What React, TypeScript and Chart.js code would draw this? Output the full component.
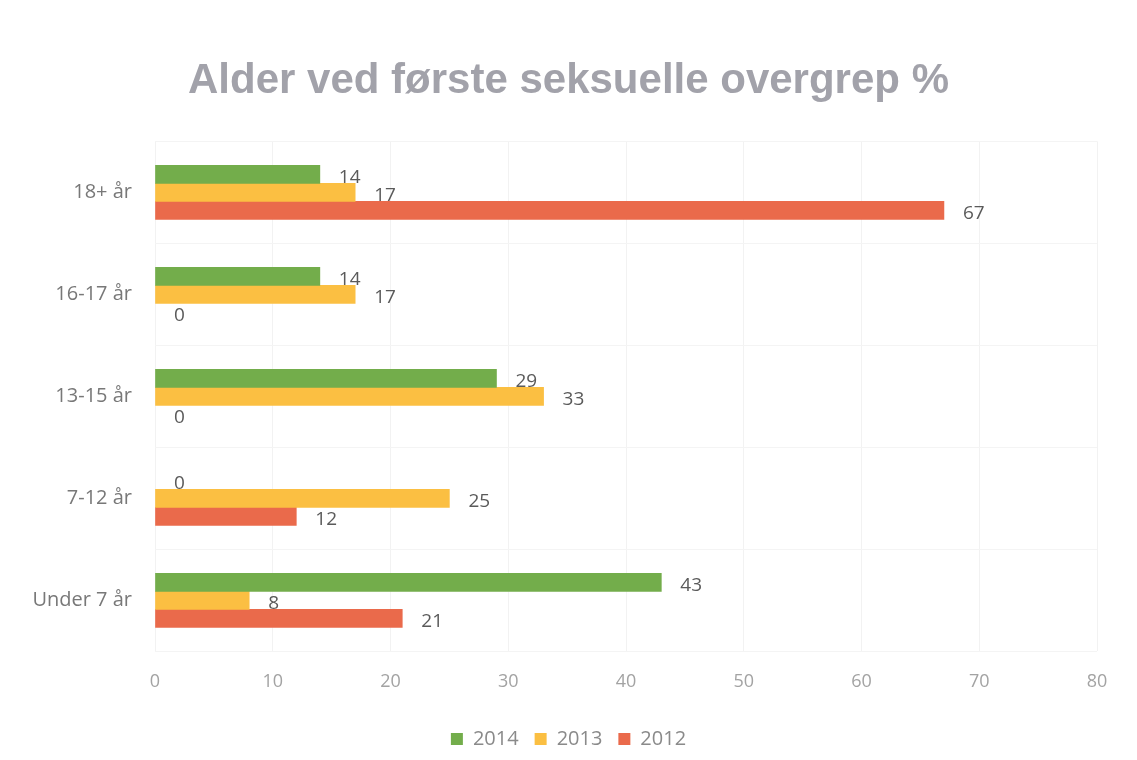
import React, { useEffect, useRef } from "react";
import { Chart, registerables } from "chart.js";

Chart.register(...registerables);

const categories = ["18+ år", "16-17 år", "13-15 år", "7-12 år", "Under 7 år"];
const values2014 = [14, 14, 29, 0, 43];
const values2013 = [17, 17, 33, 25, 8];
const values2012 = [67, 0, 0, 12, 21];
const seriesLabels = ["2014", "2013", "2012"];
const xTicks = [0, 10, 20, 30, 40, 50, 60, 70, 80];

const colors = ["#73ad4b", "#fbbf42", "#ea6a4b"];
const FONT = "'Open Sans', 'Noto Sans', sans-serif";

const dataLabelPlugin = {
  id: "dataLabels",
  afterDatasetsDraw(chart: any) {
    const ctx = chart.ctx;
    ctx.save();
    ctx.font = "19px " + FONT;
    ctx.fillStyle = "#5a5a5a";
    ctx.textAlign = "left";
    ctx.textBaseline = "middle";
    chart.data.datasets.forEach((ds: any, i: number) => {
      const meta = chart.getDatasetMeta(i);
      meta.data.forEach((el: any, j: number) => {
        ctx.fillText(String(ds.data[j]), el.x + 19, el.y + 3);
      });
    });
    ctx.restore();
  },
};

export default function App() {
  const ref = useRef<HTMLCanvasElement>(null);
  useEffect(() => {
    document.body.style.margin = "0";
    const seriesData = [values2014, values2013, values2012];
    const chart = new Chart(ref.current!, {
      type: "bar",
      data: {
        labels: categories,
        datasets: seriesLabels.map((l, i) => ({
          label: l,
          data: seriesData[i],
          backgroundColor: (c: any) => (c.raw === 0 ? "rgba(0,0,0,0)" : colors[i]),
          borderWidth: 0,
          barThickness: 18,
        })),
      },
      options: {
        indexAxis: "y",
        animation: false,
        responsive: false,
        maintainAspectRatio: false,
        layout: { padding: { left: 0, right: 0, top: 0, bottom: 1 } },
        scales: {
          x: {
            min: 0,
            max: 80,
            afterBuildTicks: (scale: any) => {
              scale.ticks = xTicks.map((v) => ({ value: v }));
            },
            afterFit: (scale: any) => {
              scale.paddingRight = 40;
            },
            grid: { color: "#f2f2f2", drawTicks: false },
            border: { display: false },
            ticks: {
              padding: 20,
              color: "#a3a3a3",
              font: { family: FONT, size: 18 },
            },
          },
          y: {
            afterFit: (scale: any) => {
              scale.width = 155;
            },
            grid: { color: "#f4f4f4", drawTicks: false, offset: true },
            border: { display: false },
            ticks: {
              padding: 23,
              color: "#787878",
              font: { family: FONT, size: 20 },
            },
          },
        },
        plugins: {
          title: {
            display: true,
            text: "Alder ved første seksuelle overgrep %",
            color: "#a2a2aa",
            font: { family: "'Liberation Sans', Arial, sans-serif", size: 42, weight: "bold" },
            padding: { top: 56, bottom: 35 },
          },
          legend: {
            position: "bottom",
            labels: {
              boxWidth: 12,
              boxHeight: 12,
              padding: 16,
              color: "#8a8a8a",
              font: { family: FONT, size: 20 },
            },
          },
          tooltip: { enabled: false },
        },
      },
      plugins: [dataLabelPlugin],
    });
    return () => chart.destroy();
  }, []);
  return (
    <div style={{ width: 1137, height: 760 }}>
      <canvas ref={ref} width={1137} height={760} style={{ display: "block" }} />
    </div>
  );
}
